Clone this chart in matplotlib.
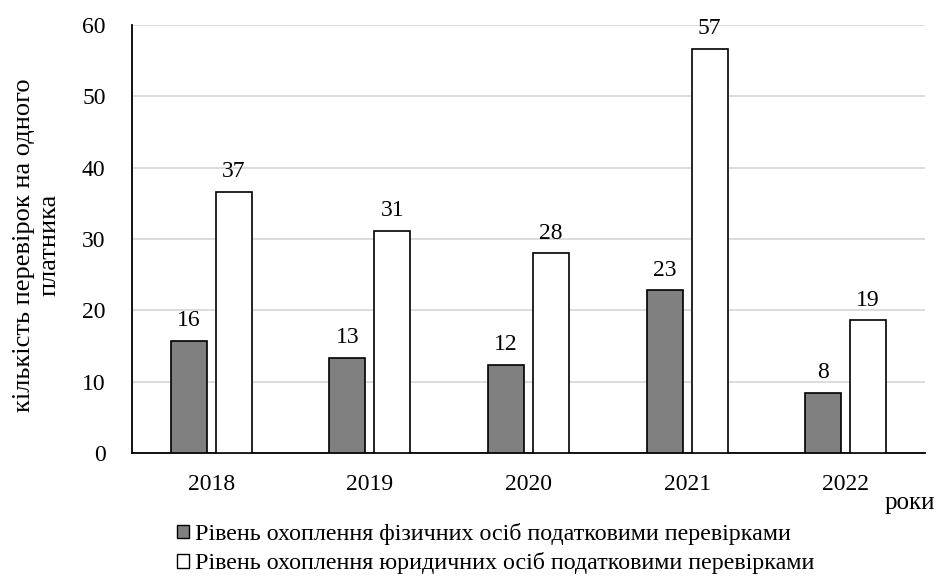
import numpy as np
import matplotlib.pyplot as plt
from matplotlib.patches import Patch

plt.rcParams['font.family'] = ['Liberation Serif', 'DejaVu Serif']

years = ['2018', '2019', '2020', '2021', '2022']
fiz = [15.7, 13.3, 12.4, 22.8, 8.4]
yur = [36.6, 31.1, 28.0, 56.7, 18.6]
fiz_name = 'Рівень охоплення фізичних осіб податковими перевірками'
yur_name = 'Рівень охоплення юридичних осіб податковими перевірками'

fig = plt.figure(figsize=(9.36, 5.78), dpi=100)
ax = fig.add_axes([132/936, 1-453/578, (925-132)/936, (453-25)/578])

x = np.arange(len(years))
w = 0.227
off = 0.142
b1 = ax.bar(x - off, fiz, w, color='#808080', edgecolor='black', linewidth=1.2, zorder=3)
b2 = ax.bar(x + off, yur, w, color='white', edgecolor='black', linewidth=1.2, zorder=3)

for bars, vals in ((b1, fiz), (b2, yur)):
    for r, v in zip(bars, vals):
        ax.annotate(f'{round(v)}', (r.get_x() + r.get_width()/2, v),
                    xytext=(0, 7), textcoords='offset points',
                    ha='center', va='bottom', fontsize=17)

ax.set_xlim(-0.5, 4.5)
ax.set_ylim(0, 60)
ax.set_yticks(range(0, 61, 10))
ax.set_xticks(x)
ax.set_xticklabels(years)
ax.tick_params(axis='both', length=0, labelsize=17)
ax.tick_params(axis='y', pad=19)
ax.tick_params(axis='x', pad=15)
ax.yaxis.grid(True, color='#d9d9d9', linewidth=1.3, zorder=0)
ax.set_axisbelow(True)
for s in ('top', 'right'):
    ax.spines[s].set_visible(False)
ax.spines['left'].set_linewidth(1.3)
ax.spines['bottom'].set_linewidth(1.3)

fig.text(37/936, 1-245/578, 'кількість перевірок на одного\nплатника', rotation=90,
         ha='center', va='center', fontsize=19, linespacing=1.2)
fig.text(935/936, 1-503/578, 'роки', ha='right', va='center', fontsize=18)

handles = [Patch(facecolor='#808080', edgecolor='black', linewidth=1.0),
           Patch(facecolor='white', edgecolor='black', linewidth=1.0)]
fig.legend(handles, [fiz_name, yur_name], loc='upper left',
           bbox_to_anchor=(177/936, 1-523/578), frameon=False, fontsize=17.3,
           handlelength=0.5, handleheight=0.5, handletextpad=0.25,
           labelspacing=0.3, borderaxespad=0, borderpad=0)

fig.savefig('out.png', dpi=100)
